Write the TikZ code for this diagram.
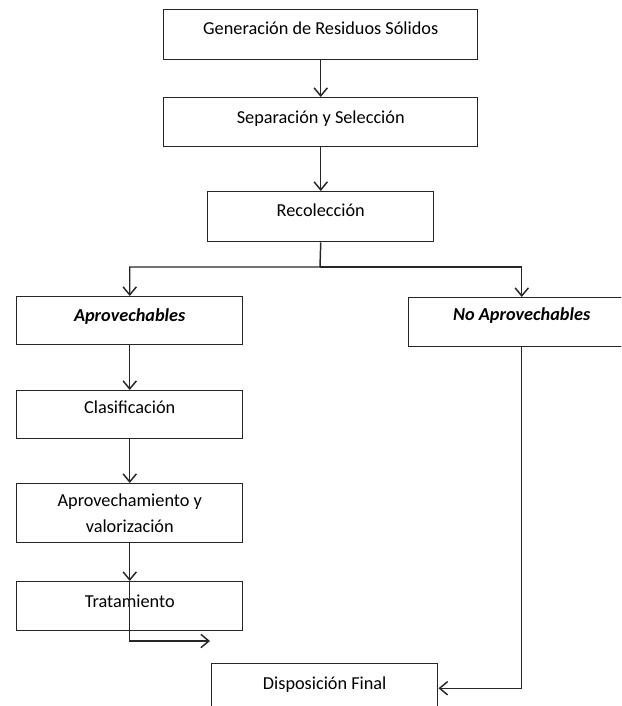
\documentclass[tikz,border=0pt]{standalone}
\usepackage{fontspec}
\setmainfont{Carlito}
\usetikzlibrary{arrows.meta}

\begin{document}
\begin{tikzpicture}[x=0.75pt,y=-0.75pt,
  caja/.style={draw=black!85,line width=1.1pt,inner sep=0pt,anchor=north west,
    align=center,minimum width=169.5pt,font=\fontsize{13.7}{16.5}\selectfont},
  ancha/.style={caja,minimum width=235.5pt},
  flecha/.style={draw=black!85,line width=1.1pt,-{Straight Barb[length=6pt,width=10pt]}}]
\useasboundingbox (0,0) rectangle (621,706);
\clip (0,0) rectangle (621,706);
%%%%%%%%%%%%%%%%
\node[ancha,text height=18.75pt,text depth=18.75pt] (gen) at (163,9) {Generación de Residuos Sólidos};
\node[ancha,text height=19.5pt,text depth=17.25pt] (sep) at (163,97) {Separación y Selección};
\node[caja,text height=18.75pt,text depth=18.75pt] (rec) at (207,191) {Recolección};
\draw[flecha] (gen) -- (sep);
\draw[flecha] (sep) -- (rec);
%%%%%%%%%%%%%%%%
\node[caja,text height=18.75pt,text depth=17.25pt] (apr) at (16,296) {\textbf{\textit{Aprovechables}}};
\node[caja,text height=17.25pt,text depth=19.5pt] (noapr) at (408,297) {\textbf{\textit{No Aprovechables}}};
\coordinate (rama) at (320,267);
\draw[flecha] (rec.south) -- (rama) -| (apr.north);
\draw[flecha] (rama) -| (noapr.north);
%%%%%%%%%%%%%%%%
\node[caja,text height=17.25pt,text depth=18.75pt] (clas) at (16,390) {Clasificación};
\node[caja,minimum height=44.25pt] (aprov) at (16,483) {Aprovechamiento y\\[3pt]valorización};
\node[caja,text height=19.5pt,text depth=17.25pt] (trat) at (16,581) {Tratamiento};
\draw[flecha] (apr) -- (clas);
\draw[flecha] (clas) -- (aprov);
\draw[flecha] (aprov) -- (trat);
\coordinate (salida) at (210,641);
\draw[flecha] (trat.north) |- (salida);
%%%%%%%%%%%%%%%%
\node[caja,text height=19.5pt,text depth=17.25pt] (disp) at (211,663) {Disposición Final};
\draw[flecha] (noapr.south) |- (disp.east);
\end{tikzpicture}
\end{document}
